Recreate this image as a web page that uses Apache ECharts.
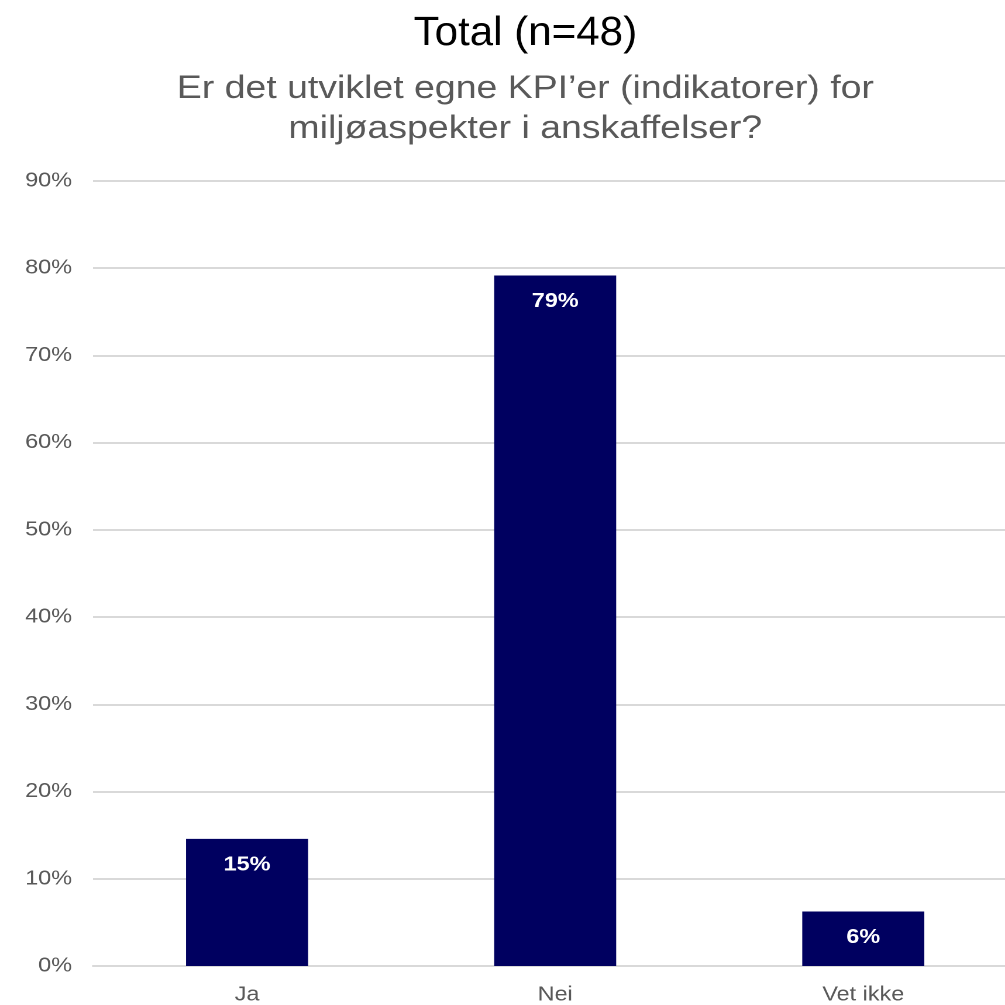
<!DOCTYPE html>
<html><head><meta charset="utf-8">
<script src="https://cdn.jsdelivr.net/npm/echarts@6/dist/echarts.min.js"></script>
<style>
html,body{margin:0;padding:0;background:#fff;overflow:hidden}
#wrap{width:1005px;height:1005px;overflow:hidden}
#c{width:859px;height:1005px;transform:scaleX(1.17);transform-origin:0 0}
</style>
</head><body><div id="wrap"><div id="c"></div></div>
<script>
const categories = ['Ja', 'Nei', 'Vet ikke'];
const values = [14.58, 79.17, 6.25];
const valueLabels = ['15%', '79%', '6%'];
const titleText = 'Total (n=48)';
const subtitleLines = ['Er det utviklet egne KPI\u2019er (indikatorer) for', 'milj\u00f8aspekter i anskaffelser?'];

const chart = echarts.init(document.getElementById('c'), null, {renderer: 'canvas', devicePixelRatio: 2});
chart.setOption({
  animation: false,
  backgroundColor: '#fff',
  graphic: [
    {type: 'text', x: 449, y: 34, scaleY: 1.12,
     style: {text: titleText, x: 0, y: 0, textAlign: 'center', textVerticalAlign: 'middle',
       font: 'normal 36px "Liberation Sans"', fill: '#000'}},
    {type: 'text', x: 449, y: 89,
     style: {text: subtitleLines[0], x: 0, y: 0, textAlign: 'center', textVerticalAlign: 'middle',
       font: 'normal 32px "Liberation Sans"', fill: '#595959'}},
    {type: 'text', x: 449, y: 129,
     style: {text: subtitleLines[1], x: 0, y: 0, textAlign: 'center', textVerticalAlign: 'middle',
       font: 'normal 32px "Liberation Sans"', fill: '#595959'}}
  ],
  grid: {left: 79.5, top: 181, bottom: 39, width: 790, containLabel: false, outerBoundsMode: 'none'},
  xAxis: {
    type: 'category', data: categories,
    axisLine: {show: true, lineStyle: {color: '#d9d9d9', width: 2}},
    axisTick: {show: false},
    axisLabel: {fontFamily: 'Liberation Sans', fontSize: 20, color: '#595959', margin: 19}
  },
  yAxis: {
    type: 'value', min: 0, max: 90, interval: 10,
    axisLine: {show: false}, axisTick: {show: false},
    splitLine: {lineStyle: {color: '#d9d9d9', width: 2}},
    axisLabel: {fontFamily: 'Liberation Sans', fontSize: 20, color: '#595959', margin: 18,
      formatter: v => v + '%'}
  },
  series: [{
    type: 'bar', data: values, barWidth: 104.3,
    itemStyle: {color: '#000060'},
    label: {show: true, position: 'insideTop', distance: 16,
      fontFamily: 'Liberation Sans', fontSize: 20, fontWeight: 'bold', color: '#fff',
      formatter: p => valueLabels[p.dataIndex]}
  }]
});
</script></body></html>
